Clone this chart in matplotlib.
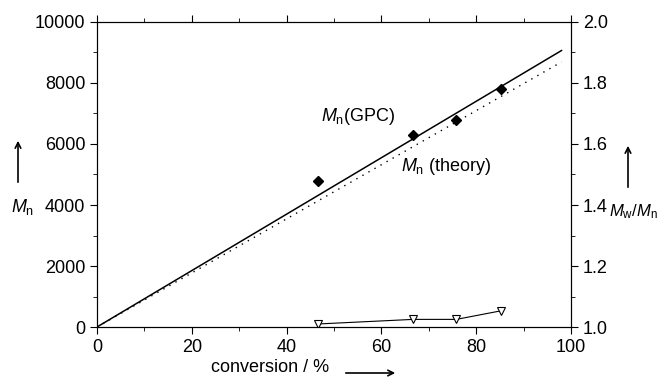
import matplotlib.pyplot as plt
import numpy as np

plt.rcParams['font.family'] = ['Liberation Sans', 'DejaVu Sans']
plt.rcParams['mathtext.fontset'] = 'custom'
plt.rcParams['mathtext.it'] = 'Liberation Sans:italic'
plt.rcParams['mathtext.rm'] = 'Liberation Sans'

# data
conversion = [46.7, 66.7, 75.8, 85.2]
mn_gpc = [4800, 6300, 6800, 7800]
pdi = [1.01, 1.025, 1.025, 1.053]
line_x = [0, 98]
mn_fit = [0, 9065]
mn_theory = [0, 8690]

fig = plt.figure(figsize=(6.58, 3.81), dpi=100)
ax = fig.add_axes([0.1474, 0.1417, 0.7204, 0.8006])

ax.plot(line_x, mn_fit, color='black', lw=1.1)
ax.plot(line_x, mn_theory, color='black', lw=1.0, ls=(0, (1, 4)))
ax.plot(conversion, mn_gpc, 'D', color='black', ms=5.5)

ax.set_xlim(0, 100)
ax.set_ylim(0, 10000)
ax.set_xticks(np.arange(0, 101, 20))
ax.set_xticks(np.arange(10, 100, 20), minor=True)
ax.set_yticks(np.arange(0, 10001, 2000))
ax.set_yticks(np.arange(1000, 10000, 2000), minor=True)
ax.tick_params(which='both', labelsize=13, direction='out', top=True)
ax.tick_params(which='major', length=5)
ax.tick_params(which='minor', length=3)

ax2 = ax.twinx()
ax2.plot(conversion, pdi, color='black', lw=0.8, marker='v', ms=6,
         mfc='white', mec='black', mew=0.8)
ax2.set_ylim(1.0, 2.0)
ax2.set_yticks(np.arange(1.0, 2.01, 0.2))
ax2.set_yticks(np.arange(1.1, 2.0, 0.2), minor=True)
ax2.tick_params(which='both', labelsize=13, direction='out')
ax2.tick_params(which='major', length=5)
ax2.tick_params(which='minor', length=3)

ax.text(47.2, 6900, r'$M_{\rm n}$(GPC)', fontsize=13, va='center')
ax.text(64.2, 5250, r'$M_{\rm n}$ (theory)', fontsize=13, va='center')

# axis titles with arrows
fig.text(270 / 658, 1 - 368 / 381, 'conversion / %', fontsize=13, ha='center', va='center')
fig.add_artist(plt.Annotation('', xy=(398 / 658, 1 - 373 / 381), xytext=(343 / 658, 1 - 373 / 381),
                              xycoords='figure fraction',
                              arrowprops=dict(arrowstyle='->', color='black', lw=1.2)))
fig.text(23 / 658, 1 - 207 / 381, r'$M_{\rm n}$', fontsize=13, ha='center', va='center')
fig.add_artist(plt.Annotation('', xy=(18 / 658, 1 - 138 / 381), xytext=(18 / 658, 1 - 185 / 381),
                              xycoords='figure fraction',
                              arrowprops=dict(arrowstyle='->', color='black', lw=1.2)))
fig.text(633 / 658, 1 - 212 / 381, r'$M_{\rm w}/M_{\rm n}$', fontsize=12, ha='center', va='center')
fig.add_artist(plt.Annotation('', xy=(628 / 658, 1 - 143 / 381), xytext=(628 / 658, 1 - 190 / 381),
                              xycoords='figure fraction',
                              arrowprops=dict(arrowstyle='->', color='black', lw=1.2)))

fig.savefig('out.png', dpi=100)
